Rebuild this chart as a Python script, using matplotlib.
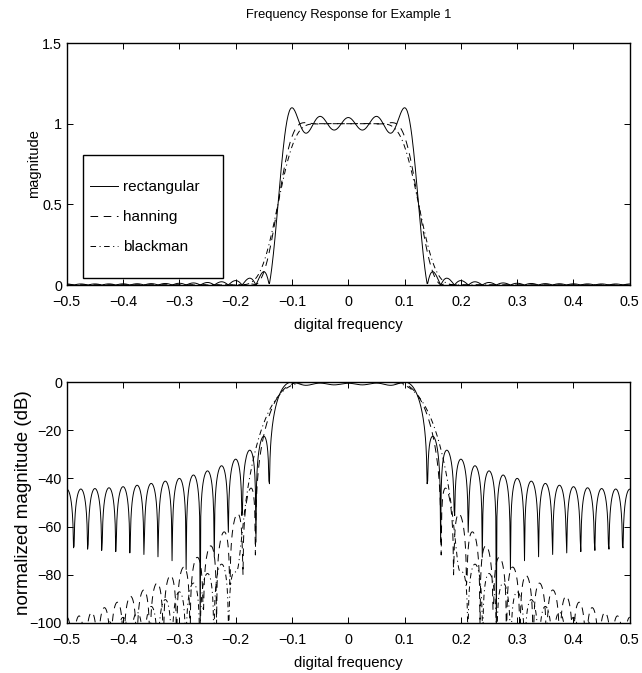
import numpy as np
import matplotlib
matplotlib.use('Agg')
import matplotlib.pyplot as plt
from matplotlib.patches import Rectangle

plt.rcParams['font.family'] = ['Liberation Sans', 'DejaVu Sans']
plt.rcParams['lines.scale_dashes'] = False

# filter design: lobe spacing ~1/N, half-amplitude at fc
N = 41               # number of taps
fc = 0.125           # cutoff, cycles/sample
npts = 1001          # frequency grid points over [-0.5, 0.5]
windows = ['rectangular', 'hanning', 'blackman']
dashes = [None, (5.5, 4), (4, 2.5, 0.8, 2.5)]
xticks = [-0.5, -0.4, -0.3, -0.2, -0.1, 0, 0.1, 0.2, 0.3, 0.4, 0.5]
xticklabels = ['\u22120.5', '\u22120.4', '\u22120.3', '\u22120.2', '\u22120.1', '0', '0.1', '0.2', '0.3', '0.4', '0.5']
mag_ticks = [0, 0.5, 1, 1.5]
mag_labels = ['0', '0.5', '1', '1.5']
db_ticks = [-100, -80, -60, -40, -20, 0]
db_labels = ['\u2212100', '\u221280', '\u221260', '\u221240', '\u221220', '0']


def window(name, n):
    if name == 'rectangular':
        return np.ones(n)
    if name == 'hanning':
        # MATLAB hanning() leaves out the zero end points
        return np.hanning(n + 2)[1:-1]
    return np.blackman(n)


k = np.arange(N) - (N - 1) / 2
ideal = 2 * fc * np.sinc(2 * fc * k)
freq = np.linspace(-0.5, 0.5, npts)
E = np.exp(-2j * np.pi * np.outer(freq, np.arange(N)))

fig = plt.figure(figsize=(6.42, 6.73), dpi=100)
ax1 = fig.add_axes([0.104, 0.5765, 0.877, 0.3596])
ax2 = fig.add_axes([0.104, 0.0743, 0.877, 0.358])

for name, d in zip(windows, dashes):
    h = ideal * window(name, N)
    H = np.abs(E @ h)
    db = 20 * np.log10(np.maximum(H / H.max(), 1e-12))
    l1, = ax1.plot(freq, H, color='black', lw=0.7, label=name)
    l2, = ax2.plot(freq, db, color='black', lw=0.7)
    if d is not None:
        l1.set_dashes(d)
        l2.set_dashes(d)

for ax in (ax1, ax2):
    ax.set_xlim(-0.5, 0.5)
    ax.set_xticks(xticks)
    ax.set_xticklabels(xticklabels)
    ax.tick_params(direction='in', top=True, right=True, length=4.5, width=0.7,
                   labelsize=10.4)
    ax.tick_params(axis='x', pad=7)
    ax.tick_params(axis='y', pad=3.5)
    ax.set_xlabel('digital frequency', fontsize=10.7, labelpad=6.5)
    for s in ax.spines.values():
        s.set_linewidth(1.0)

ax1.set_ylim(0, 1.5)
ax1.set_yticks(mag_ticks)
ax1.set_yticklabels(mag_labels)
ax1.set_ylabel('magnitude', fontsize=10.5, labelpad=0.8)
ax1.set_title('Frequency Response for Example 1', fontsize=9.3, pad=18)

ax2.set_ylim(-100, 0)
ax2.set_yticks(db_ticks)
ax2.set_yticklabels(db_labels)
ax2.set_ylabel('normalized magnitude (dB)', fontsize=13.5, labelpad=-1.5)

frame = Rectangle((0.0284, 0.029), 0.2486, 0.508, transform=ax1.transAxes,
                  facecolor='white', edgecolor='black', lw=1.0, zorder=5)
ax1.add_patch(frame)
leg = ax1.legend(loc='center left', bbox_to_anchor=(0.0409, 0.281), frameon=False,
                 fontsize=11, handlelength=1.83, handletextpad=0.33,
                 labelspacing=1.05, borderpad=0, borderaxespad=0)
leg.set_zorder(6)

fig.savefig('out.png', dpi=100)
